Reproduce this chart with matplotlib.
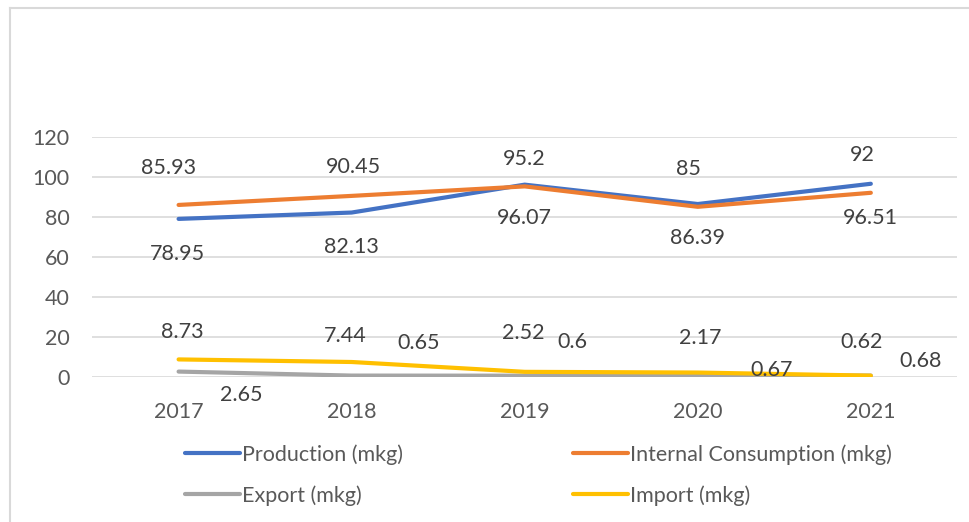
import matplotlib
matplotlib.use("Agg")
from matplotlib import pyplot as plt
from matplotlib.lines import Line2D

years = ["2017", "2018", "2019", "2020", "2021"]
production = [78.95, 82.13, 96.07, 86.39, 96.51]
consumption = [85.93, 90.45, 95.2, 85, 92]
export = [2.65, 0.65, 0.6, 0.67, 0.68]
imports = [8.73, 7.44, 2.52, 2.17, 0.62]

# label offsets in pixels (dx, dy) from each point
prod_off = [(-1, -35), (0, -34), (0, -33), (0, -34), (0, -34)]
cons_off = [(-10, 37), (2, 29), (-1, 27), (-9, 38), (-9, 38)]
exp_off = [(63, -23), (67, 33), (48, 34), (74, 6), (50, 15)]
imp_off = [(4, 27), (-6, 26), (-1, 39), (2, 35), (-9, 34)]

plt.rcParams['font.family'] = ['Lato', 'DejaVu Sans']
fs = 15.5
tick_col = '#595959'
lab_col = '#404040'

fig = plt.figure(figsize=(9.69, 5.22), dpi=100)
ax = fig.add_axes([0.095, 0.278, 0.893, 0.46])

x = list(range(len(years)))
series = [
    (production, "Production (mkg)", '#4472C4', prod_off),
    (consumption, "Internal Consumption (mkg)", '#ED7D31', cons_off),
    (export, "Export (mkg)", '#A5A5A5', exp_off),
    (imports, "Import (mkg)", '#FFC000', imp_off),
]
lines = []
for vals, name, col, offs in series:
    ln, = ax.plot(x, vals, color=col, lw=3, solid_capstyle='round', label=name, zorder=3)
    lines.append(ln)
for vals, name, col, offs in series:
    for xi, v, (dx, dy) in zip(x, vals, offs):
        ax.annotate(f"{v:g}", (xi, v), xytext=(dx, dy), textcoords='offset pixels',
                    ha='center', va='center', fontsize=fs, color=lab_col, zorder=4)

ax.set_xlim(-0.5, 4.5)
ax.set_ylim(0, 120)
ax.set_yticks(range(0, 121, 20))
ax.set_xticks(x)
ax.set_xticklabels(years)
ax.grid(axis='y', color='#D9D9D9', lw=1.2)
ax.set_axisbelow(True)
for s in ax.spines.values():
    s.set_visible(False)
ax.tick_params(length=0, labelsize=fs, labelcolor=tick_col)
ax.tick_params(axis='y', pad=16)
ax.tick_params(axis='x', pad=18)

order = [lines[0], lines[2], lines[1], lines[3]]
leg = fig.legend(handles=order, labels=[l.get_label() for l in order], ncol=2,
                 loc='upper left', bbox_to_anchor=(185 / 969, 1 - 444 / 522),
                 frameon=False, fontsize=fs, handlelength=2.55, handletextpad=0.1,
                 columnspacing=7.9, labelspacing=0.95, borderaxespad=0, borderpad=0)
for t in leg.get_texts():
    t.set_color(tick_col)

# chart border (left and top)
bx, by = 10 / 969, 1 - 8 / 522
fig.add_artist(Line2D([bx, bx], [0, by], transform=fig.transFigure, color='#D9D9D9', lw=1.5))
fig.add_artist(Line2D([bx, 1], [by, by], transform=fig.transFigure, color='#D9D9D9', lw=1.5))

fig.savefig("out.png", dpi=100)
